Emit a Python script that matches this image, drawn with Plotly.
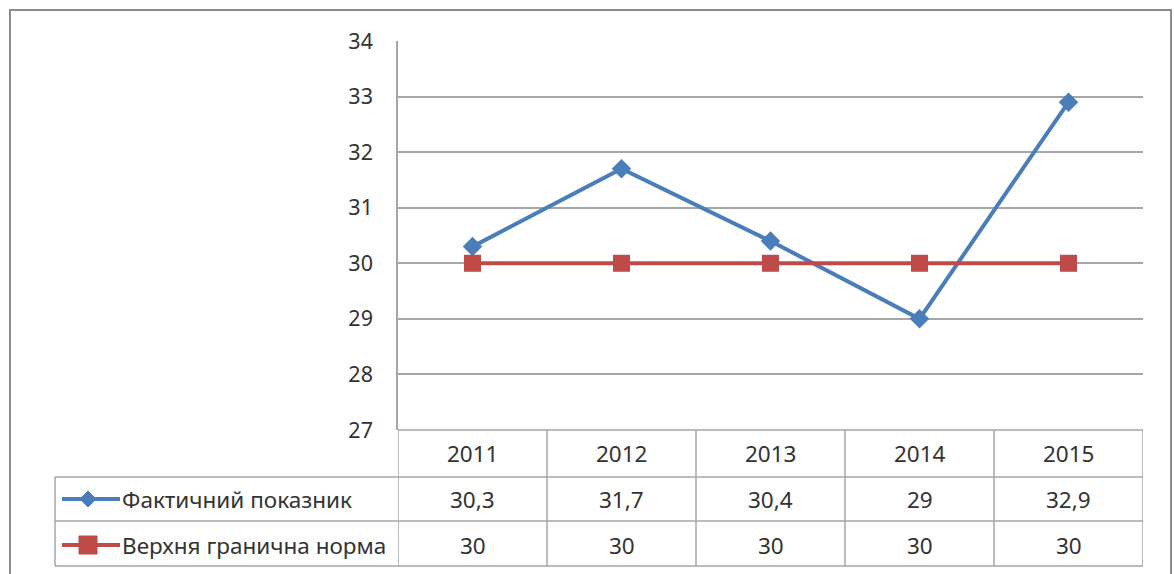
import plotly.graph_objects as go

years = ["2011", "2012", "2013", "2014", "2015"]
actual = [30.3, 31.7, 30.4, 29, 32.9]
norm = [30, 30, 30, 30, 30]
name_actual = "Фактичний показник"
name_norm = "Верхня гранична норма"
y_ticks = [27, 28, 29, 30, 31, 32, 33, 34]

BLUE = "#4a7ebb"
RED = "#be4b48"
GRID = "#a6a6a6"
TXT = "#333333"
FONT = "Noto Sans"
FS = 22.5

W, H = 1174, 574
L, R, T, B = 398, 1143, 41, 430  # plot area in px


def px(x):
    return (x - L) / (R - L)


def py(y):
    return (B - y) / (B - T)


def fmt(v):
    if float(v).is_integer():
        return str(int(v))
    return str(v).replace(".", ",")


fig = go.Figure()
fig.add_trace(go.Scatter(x=years, y=actual, mode="lines+markers", name=name_actual,
                         line=dict(color=BLUE, width=4),
                         marker=dict(symbol="diamond", size=15, color=BLUE)))
fig.add_trace(go.Scatter(x=years, y=norm, mode="lines+markers", name=name_norm,
                         line=dict(color=RED, width=4),
                         marker=dict(symbol="square", size=17, color=RED)))

shapes = []
annotations = []

# outer chart border
shapes.append(dict(type="rect", xref="paper", yref="paper", x0=px(10), x1=px(1171),
                   y0=py(590), y1=py(10), line=dict(color="#8c8c8c", width=2)))

# data table horizontal lines
for yy, x0 in [(430, 398), (477, 55), (521, 55), (566, 55)]:
    shapes.append(dict(type="line", xref="paper", yref="paper", x0=px(x0), x1=px(1143),
                       y0=py(yy), y1=py(yy), line=dict(color=GRID, width=1.5)))
# vertical lines at category boundaries
for i in range(len(years) + 1):
    shapes.append(dict(type="line", xref="x", yref="paper", x0=i - 0.5, x1=i - 0.5,
                       y0=py(566), y1=py(430), line=dict(color=GRID, width=1.5)))
# left edge of legend column
shapes.append(dict(type="line", xref="paper", yref="paper", x0=px(55), x1=px(55),
                   y0=py(566), y1=py(477), line=dict(color=GRID, width=1.5)))

# header row: years
for i, yr in enumerate(years):
    annotations.append(dict(x=i, y=py(453), xref="x", yref="paper", text=yr, showarrow=False,
                            xanchor="center", yanchor="middle",
                            font=dict(family=FONT, size=FS, color=TXT)))
# value rows
for row_y, vals in [(499, actual), (545, norm)]:
    for i, v in enumerate(vals):
        annotations.append(dict(x=i, y=py(row_y), xref="x", yref="paper", text=fmt(v),
                                showarrow=False, xanchor="center", yanchor="middle",
                                font=dict(family=FONT, size=FS, color=TXT)))

# legend keys in table
for row_y, name, color, kind in [(499, name_actual, BLUE, "diamond"), (545, name_norm, RED, "square")]:
    shapes.append(dict(type="line", xref="paper", yref="paper", x0=px(62), x1=px(120),
                       y0=py(row_y), y1=py(row_y), line=dict(color=color, width=4)))
    cx = 88
    if kind == "diamond":
        d = 8
        path = (f"M {px(cx)} {py(row_y - d)} L {px(cx + d)} {py(row_y)} "
                f"L {px(cx)} {py(row_y + d)} L {px(cx - d)} {py(row_y)} Z")
        shapes.append(dict(type="path", xref="paper", yref="paper", path=path,
                           fillcolor=color, line=dict(color=color, width=1)))
    else:
        d = 9
        shapes.append(dict(type="rect", xref="paper", yref="paper", x0=px(cx - d), x1=px(cx + d),
                           y0=py(row_y + d), y1=py(row_y - d), fillcolor=color,
                           line=dict(color=color, width=1)))
    annotations.append(dict(x=px(120), y=py(row_y), xref="paper", yref="paper", text=name,
                            showarrow=False, xanchor="left", yanchor="middle",
                            font=dict(family=FONT, size=FS, color=TXT)))

fig.update_layout(
    width=W, height=H,
    margin=dict(l=L, r=W - R, t=T, b=H - B),
    paper_bgcolor="white", plot_bgcolor="white",
    showlegend=False,
    shapes=shapes, annotations=annotations,
    font=dict(family=FONT, size=FS, color=TXT),
)
fig.update_xaxes(type="category", range=[-0.5, len(years) - 0.5], showticklabels=False,
                 showgrid=False, zeroline=False, showline=False, ticks="")
fig.update_yaxes(range=[27, 34], tickvals=y_ticks, showgrid=True, gridcolor=GRID, gridwidth=1.5,
                 zeroline=False, showline=True, linecolor=GRID, linewidth=1.5,
                 ticks="", ticklabelstandoff=19, tickfont=dict(family=FONT, size=21.5, color=TXT))

fig.write_html("out.html", config={"displayModeBar": False},
               post_script="document.body.style.margin='0';")
